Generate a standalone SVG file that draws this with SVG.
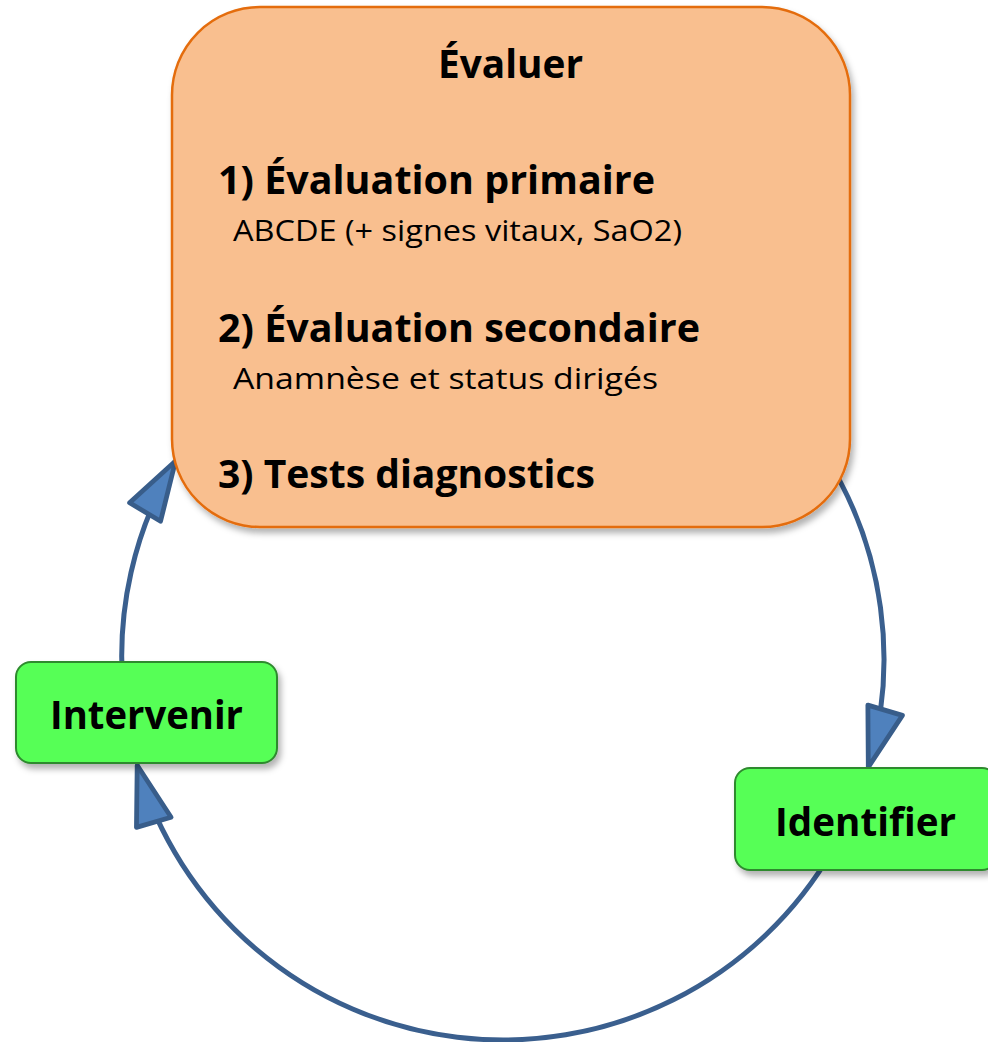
<svg xmlns="http://www.w3.org/2000/svg" width="988" height="1042" viewBox="0 0 988 1042">
<style>
.conn{fill:none;stroke:#3A5F8E;stroke-width:5}
.big{font-family:"Open Sans","Liberation Sans",sans-serif;font-weight:700;font-size:39px;fill:#000}
.sub{font-family:"Open Sans","Liberation Sans",sans-serif;font-weight:400;font-size:29px;fill:#000}
.green{fill:#57FF57;stroke:#2F8A2F;stroke-width:2}
.orange{fill:#F9BF8F;stroke:#E46C0A;stroke-width:2.5}
</style>
<defs>
<filter id="sh" x="-10%" y="-10%" width="130%" height="130%">
<feDropShadow dx="3" dy="5" stdDeviation="3" flood-color="#000" flood-opacity="0.3"/>
</filter>
<marker id="ah" markerUnits="userSpaceOnUse" markerWidth="70" markerHeight="50" viewBox="-4 -4 66 46" refX="58" refY="19" orient="auto">
<path d="M2,2 L58,19 L2,36 Z" fill="#4F81BD" stroke="#385D8A" stroke-width="4.5" stroke-linejoin="round"/>
</marker>
</defs>
<g id="connectors">
<path class="conn" d="M826,457 A381,381 0 0 1 868.3,767.2" marker-end="url(#ah)"/>
<path class="conn" d="M833,849.5 A381,381 0 0 1 137.2,765.3" marker-end="url(#ah)"/>
<path class="conn" d="M123.4,692 A381,381 0 0 1 175.5,461" marker-end="url(#ah)"/>
</g>
<g id="evaluer">
<rect class="orange" x="172" y="7" width="678" height="520" rx="88" ry="88" filter="url(#sh)"/>
<text class="big" x="438" y="78" textLength="145" lengthAdjust="spacingAndGlyphs">Évaluer</text>
<text class="big" x="218" y="194" textLength="437" lengthAdjust="spacingAndGlyphs">1) Évaluation primaire</text>
<text class="sub" x="233" y="241" textLength="449" lengthAdjust="spacingAndGlyphs">ABCDE (+ signes vitaux, SaO2)</text>
<text class="big" x="218" y="342" textLength="482" lengthAdjust="spacingAndGlyphs">2) Évaluation secondaire</text>
<text class="sub" x="233" y="389" textLength="425" lengthAdjust="spacingAndGlyphs">Anamnèse et status dirigés</text>
<text class="big" x="218" y="488" textLength="377" lengthAdjust="spacingAndGlyphs">3) Tests diagnostics</text>
</g>
<g id="intervenir">
<rect class="green" x="16" y="662" width="261" height="101" rx="15" ry="15" filter="url(#sh)"/>
<text class="big" x="50" y="729" textLength="193" lengthAdjust="spacingAndGlyphs">Intervenir</text>
</g>
<g id="identifier">
<rect class="green" x="735" y="768" width="262" height="102" rx="15" ry="15" filter="url(#sh)"/>
<text class="big" x="775" y="836" textLength="181" lengthAdjust="spacingAndGlyphs">Identifier</text>
</g>
</svg>
